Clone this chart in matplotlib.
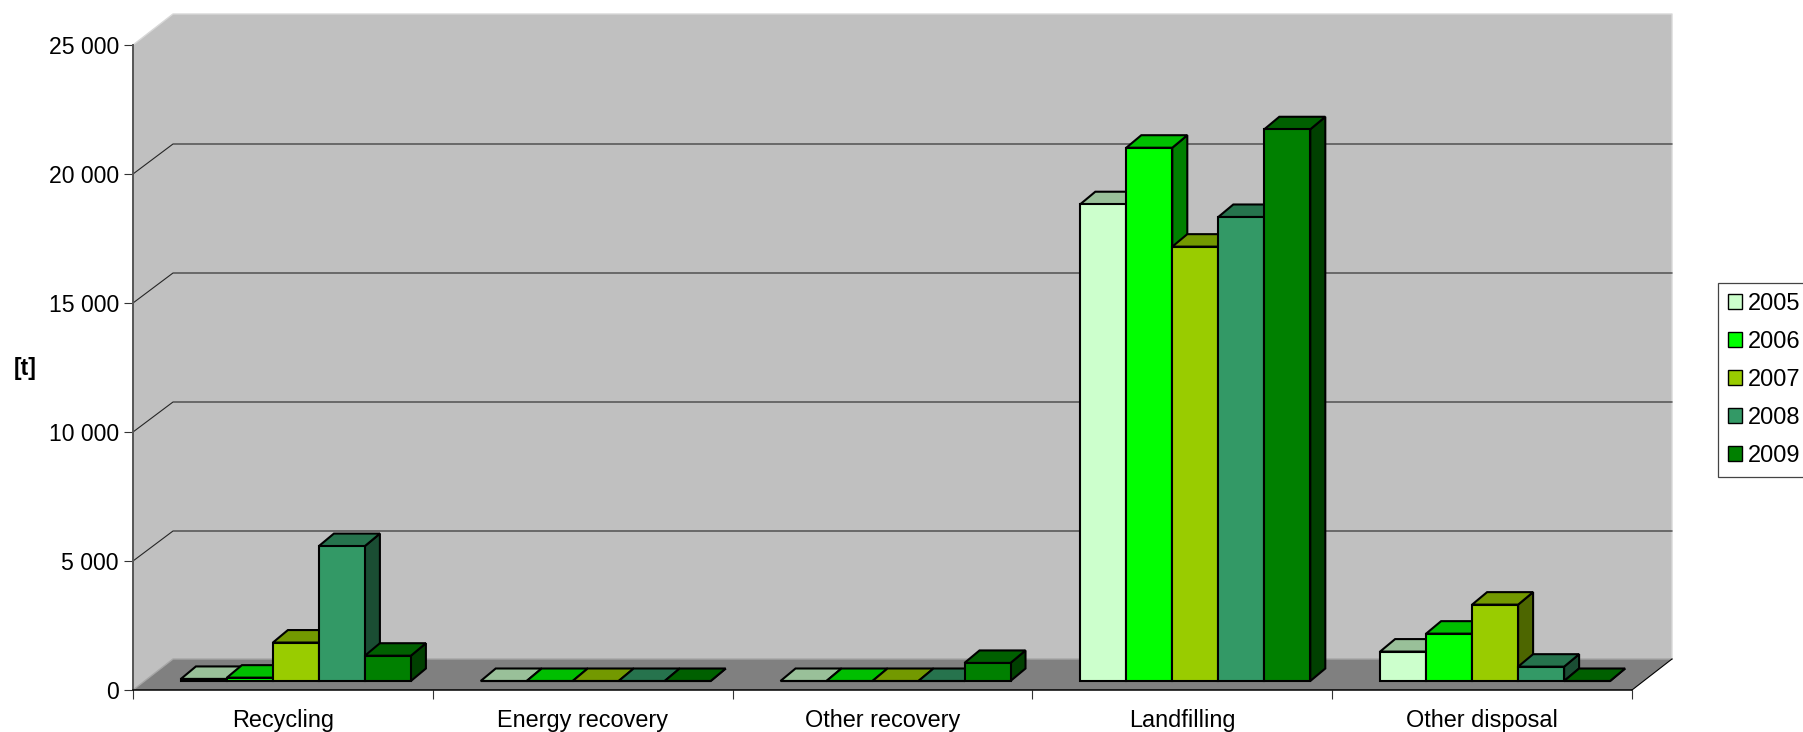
import numpy as np
import matplotlib
matplotlib.use('Agg')
import matplotlib.pyplot as plt
from matplotlib.patches import Polygon, Patch

plt.rcParams['font.family'] = ['Liberation Sans', 'DejaVu Sans']

categories = ['Recycling', 'Energy recovery', 'Other recovery', 'Landfilling', 'Other disposal']
years = ['2005', '2006', '2007', '2008', '2009']
v2005 = [80, 0, 0, 18480, 1140]
v2006 = [130, 0, 0, 20670, 1835]
v2007 = [1490, 0, 0, 16835, 2960]
v2008 = [5230, 0, 0, 17985, 555]
v2009 = [980, 0, 700, 21385, 0]
series = [v2005, v2006, v2007, v2008, v2009]
y_ticks = [0, 5000, 10000, 15000, 20000, 25000]
y_labels = ['0', '5 000', '10 000', '15 000', '20 000', '25 000']

front = ['#CCFFCC', '#00FF00', '#99CC00', '#339966', '#008000']
top = ['#99C099', '#00BF00', '#739900', '#26734D', '#006000']
side = ['#668066', '#008000', '#4D6600', '#1A4D33', '#004000']

W, H = 1803, 732
X0, X1, Y0, Y1 = 133, 1632, 690, 45
px_x = 5 / (X1 - X0)        # categories per pixel
px_y = 25000 / (Y0 - Y1)    # value per pixel

# fake 3d depth, in data units
wall_dx, wall_dy = 40 * px_x, 31 * px_y
grid_dy = 30 * px_y
base_dx, base_dy = 13 * px_x, 9 * px_y
bar_dx, bar_dy = 15 * px_x, 12.5 * px_y
bar_w = 46 * px_x

fig = plt.figure(figsize=(W / 100, H / 100), dpi=100)
ax = fig.add_axes([X0 / W, 1 - Y0 / H, (X1 - X0) / W, (Y0 - Y1) / H])
ax.set_xlim(0, 5)
ax.set_ylim(0, 25000)
ax.patch.set_visible(False)


def poly(points, color, edge='none', lw=0.0, z=1):
    ax.add_patch(Polygon(points, closed=True, facecolor=color, edgecolor=edge,
                         linewidth=lw, zorder=z, clip_on=False, joinstyle='miter'))


# walls and floor
poly([(0, 0), (wall_dx, wall_dy), (wall_dx, 25000 + wall_dy), (0, 25000)], '#C0C0C0')
poly([(wall_dx, wall_dy), (5 + wall_dx, wall_dy), (5 + wall_dx, 25000 + wall_dy), (wall_dx, 25000 + wall_dy)], '#C0C0C0')
poly([(0, 0), (wall_dx, wall_dy), (5 + wall_dx, wall_dy), (5, 0)], '#808080')
ax.plot([0, wall_dx, 5 + wall_dx, 5 + wall_dx], [25000, 25000 + wall_dy, 25000 + wall_dy, wall_dy],
        color='#D8D8D8', lw=1.0, zorder=1.5, clip_on=False)
ax.plot([0, wall_dx, 5 + wall_dx], [0, wall_dy, wall_dy], color='#A6A6A6', lw=1.0, zorder=1.5, clip_on=False)
ax.plot([5, 5 + wall_dx], [0, wall_dy], color='black', lw=0.8, zorder=1.5, clip_on=False)

for t in y_ticks[1:-1]:
    ax.plot([0, wall_dx, 5 + wall_dx], [t, t + grid_dy, t + grid_dy], color='#262626', lw=0.8,
            zorder=1.5, clip_on=False)

# bars, left to right so later ones cover the earlier sides
z = 3
for c in range(len(categories)):
    for s in range(len(series)):
        value = series[s][c]
        left = c + base_dx + (1 - 5 * bar_w) / 2 + s * bar_w
        right = left + bar_w
        y_a = base_dy
        y_b = base_dy + value
        poly([(right, y_a), (right + bar_dx, y_a + bar_dy), (right + bar_dx, y_b + bar_dy), (right, y_b)],
             side[s], 'black', 1.5, z)
        poly([(left, y_b), (left + bar_dx, y_b + bar_dy), (right + bar_dx, y_b + bar_dy), (right, y_b)],
             top[s], 'black', 1.5, z)
        poly([(left, y_a), (right, y_a), (right, y_b), (left, y_b)], front[s], 'black', 1.5, z)
        z += 1

# axes
for name in ['top', 'right']:
    ax.spines[name].set_visible(False)
ax.spines['left'].set_color('#555555')
ax.spines['left'].set_linewidth(1.4)
ax.spines['bottom'].set_color('black')
ax.spines['bottom'].set_linewidth(1.1)
ax.spines['left'].set_zorder(2)
ax.spines['bottom'].set_zorder(2)

ax.set_yticks(y_ticks)
ax.set_yticklabels(y_labels)
ax.set_xticks(np.arange(6))
ax.set_xticklabels([])
ax.set_xticks(np.arange(5) + 0.5, minor=True)
ax.set_xticklabels(categories, minor=True)
ax.tick_params(axis='y', length=6.5, width=0.8, pad=3.6, labelsize=16.6, color='#333333')
ax.tick_params(axis='x', which='major', length=6.5, width=0.8, color='#333333')
ax.tick_params(axis='x', which='minor', length=0, pad=13.5, labelsize=16.9)

ax.set_ylabel('[t]', rotation=0, fontweight='bold', fontsize=16.5)
ax.yaxis.set_label_coords((25 - X0) / (X1 - X0), (Y0 - 380) / (Y0 - Y1))

handles = [Patch(facecolor=front[i], edgecolor='black', linewidth=1.0, label=years[i]) for i in range(5)]
leg = fig.legend(handles=handles, loc='upper left', bbox_to_anchor=(1718 / W, 1 - 283 / H), fontsize=17,
                 frameon=True, fancybox=False, framealpha=1, edgecolor='#444444',
                 borderaxespad=0, borderpad=0.42, handlelength=0.6, handleheight=0.6,
                 handletextpad=0.24, labelspacing=0.68)
leg.get_frame().set_linewidth(0.9)

fig.savefig('out.png', dpi=100)
